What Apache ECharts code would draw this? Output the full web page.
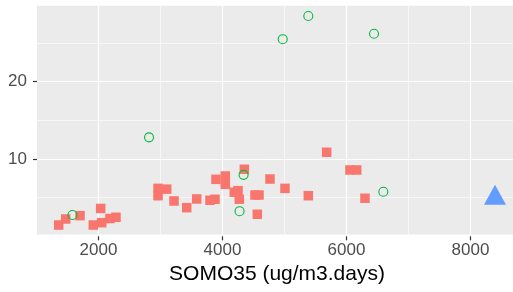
<!DOCTYPE html>
<html>
<head>
<meta charset="UTF-8">
<title>SOMO35</title>
<script type="text/javascript" src="https://cdn.jsdelivr.net/npm/echarts@6/dist/echarts.min.js"></script>
</head>
<body style="margin: 0;">
	<div id="box" style="width: 513px; height: 292px;"></div>

	<script type="text/javascript">
		// data
		var squareX = [1358, 1471, 1702, 1916, 2035, 2052, 2185, 2282, 2960, 2960, 3100, 3218, 3423, 3584, 3798, 3879, 3895,
			4045, 4045, 4190, 4250, 4271, 4352, 4524, 4589, 4561, 4766, 5008, 5384, 5680, 6056, 6165, 6298];
		var squareY = [1.46, 2.24, 2.67, 1.46, 3.6, 1.76, 2.3, 2.46, 6.2, 5.25, 6.1, 4.57, 3.7, 4.83, 4.66, 4.79, 7.37,
			7.8, 6.72, 5.7, 5.9, 4.79, 8.67, 5.34, 5.34, 2.85, 7.41, 6.2, 5.25, 10.87, 8.58, 8.58, 4.92];
		var circleX = [1580, 2815, 4275, 4340, 4971, 5384, 6444, 6594];
		var circleY = [2.75, 12.8, 3.25, 7.95, 25.5, 28.5, 26.2, 5.77];
		var triangleX = [8395];
		var triangleY = [5.0];
		var xTickStep = 2000;
		var yTickLabels = [10, 20];
		var xTitle = 'SOMO35 (ug/m3.days)';

		function pairs(xs, ys) {
			var out = [];
			for (var i = 0; i < xs.length; i++) {
				out.push([xs[i], ys[i]]);
			}
			return out;
		}

		// pixel scale of the panel (x: 124px per 2000, y: 77.3px per 10)
		var pxX = 124 / 2000, pxY = 77.3 / 10;
		var xZero = 98.5 - 2000 * pxX;
		var yZero = 159 + 10 * pxY;
		var font = "'Liberation Sans', Arial, sans-serif";

		var myChart = echarts.init(document.getElementById('box'));
		myChart.setOption({
			animation : false,
			grid : [ {
				// grey panel
				left : 37, top : 5.7, width : 480, height : 228.8,
				show : true, backgroundColor : '#EBEBEB', borderWidth : 0,
				outerBoundsMode : 'none'
			}, {
				// x scale + data, starts at x = 0 off the left edge
				left : xZero, top : yZero - 30 * pxY, width : 10000 * pxX, height : 30 * pxY,
				outerBoundsMode : 'none'
			}, {
				// y scale over the panel width
				left : 37, top : yZero - 30 * pxY, width : 480, height : 30 * pxY,
				outerBoundsMode : 'none'
			} ],
			xAxis : [ {
				gridIndex : 0, type : 'value', show : false, min : 0, max : 1
			}, {
				gridIndex : 1, type : 'value', min : 0, max : 10000, interval : xTickStep,
				axisLine : { show : false },
				axisTick : { show : true, length : 4, lineStyle : { color : '#333333', width : 1.2 } },
				axisLabel : { fontSize : 17, color : '#4D4D4D', fontFamily : font, margin : 6,
					formatter : function(v) { return String(v); } },
				splitLine : { show : true, lineStyle : { color : '#FFFFFF', width : 1.2 } },
				minorTick : { show : false, splitNumber : 2 },
				minorSplitLine : { show : true, lineStyle : { color : '#FFFFFF', width : 0.6 } }
			}, {
				gridIndex : 2, type : 'value', min : 0, max : 1,
				name : xTitle, nameLocation : 'middle', nameGap : 27,
				nameTextStyle : { fontSize : 21, color : '#000000', fontFamily : font },
				axisLine : { show : false }, axisTick : { show : false },
				axisLabel : { show : false }, splitLine : { show : false }
			} ],
			yAxis : [ {
				gridIndex : 0, type : 'value', show : false, min : 0, max : 1
			}, {
				gridIndex : 1, type : 'value', show : false, min : 0, max : 30,
				splitLine : { show : false }
			}, {
				gridIndex : 2, type : 'value', min : 0, max : 30, interval : 10,
				axisLine : { show : false },
				axisTick : { show : true, length : 4, customValues : yTickLabels,
					lineStyle : { color : '#333333', width : 1.2 } },
				axisLabel : { fontSize : 17, color : '#4D4D4D', fontFamily : font, margin : 10,
					customValues : yTickLabels },
				splitLine : { show : true, lineStyle : { color : '#FFFFFF', width : 1.2 } },
				minorTick : { show : false, splitNumber : 2 },
				minorSplitLine : { show : true, lineStyle : { color : '#FFFFFF', width : 0.6 } }
			} ],
			series : [ {
				type : 'scatter', xAxisIndex : 1, yAxisIndex : 1,
				symbol : 'rect', symbolSize : 9.5,
				itemStyle : { color : '#F8766D', opacity : 1 },
				data : pairs(squareX, squareY)
			}, {
				type : 'scatter', xAxisIndex : 1, yAxisIndex : 1,
				symbol : 'circle', symbolSize : 9,
				itemStyle : { color : 'rgba(0,0,0,0)', borderColor : '#00BA38', borderWidth : 1.1, opacity : 1 },
				data : pairs(circleX, circleY)
			}, {
				type : 'scatter', xAxisIndex : 1, yAxisIndex : 1,
				symbol : 'triangle', symbolSize : [ 22, 20 ], symbolOffset : [ 0, -3 ],
				itemStyle : { color : '#619CFF', opacity : 1 },
				data : pairs(triangleX, triangleY)
			} ]
		});
	</script>

</body>
</html>
